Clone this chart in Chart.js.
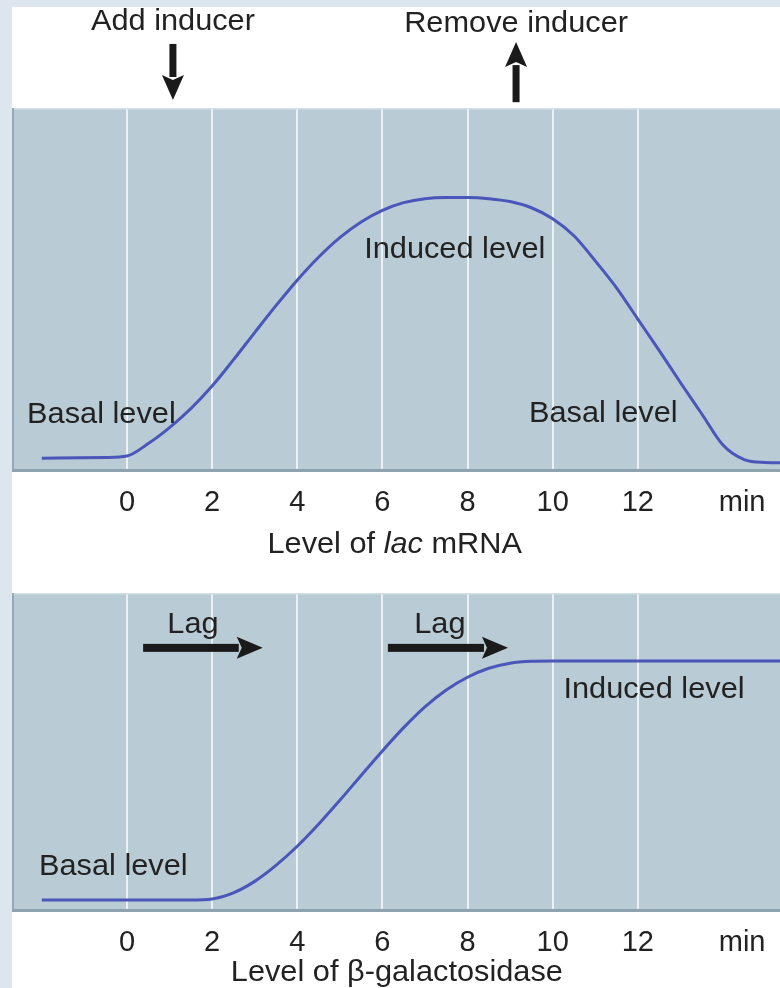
<!DOCTYPE html>
<html><head><meta charset="utf-8">
<script src="https://cdn.jsdelivr.net/npm/chart.js@4.4.1/dist/chart.umd.min.js"></script>
<style>
html,body{margin:0;padding:0;background:#fff;}
body{width:780px;height:988px;position:relative;overflow:hidden;}
#frameL{position:absolute;left:0;top:0;width:12px;height:988px;background:#dde5ee;}
#frameT{position:absolute;left:0;top:0;width:780px;height:7px;background:#dde5ee;}
canvas{position:absolute;left:0;}
#c1{top:0;}
#c2{top:560px;}
</style></head><body>
<div id="frameL"></div><div id="frameT"></div>
<canvas id="c1" width="780" height="560"></canvas>
<canvas id="c2" width="780" height="428"></canvas>
<script>
// ---- data (minutes vs. relative level, 0..100) ----
const mrnaMinutes = [-2, -0.5, 0, 0.5, 1, 1.5, 2, 2.5, 3, 3.5, 4, 4.5, 5, 5.5, 6, 6.5, 7, 7.5, 8, 8.5, 9, 9.5, 10, 10.5, 11, 11.5, 12, 12.5, 13, 13.5, 14, 14.5, 15, 15.4];
const mrnaLevel   = [3.8, 4.0, 4.4, 7.8, 12.2, 17.4, 23.6, 30.8, 38.3, 45.7, 52.7, 59.0, 64.4, 68.7, 71.9, 74.0, 75.1, 75.4, 75.4, 75.1, 74.3, 72.6, 69.6, 64.9, 58.0, 50.6, 42.0, 33.4, 24.6, 16.0, 7.4, 3.4, 2.6, 2.5];
const galMinutes  = [-2, 0, 1, 1.5, 2, 2.5, 3, 3.5, 4, 4.5, 5, 5.5, 6, 6.5, 7, 7.5, 8, 8.5, 9, 9.5, 10, 12, 15.4];
const galLevel    = [3.8, 3.8, 3.8, 3.8, 4.1, 6.0, 9.6, 14.6, 20.6, 27.5, 35.0, 42.8, 50.5, 57.8, 64.3, 69.6, 73.6, 76.4, 78.0, 78.6, 78.7, 78.7, 78.7];
const tickValues  = [0, 2, 4, 6, 8, 10, 12];
const unitTick    = 14.45;
const unitLabel   = 'min';
const addInducerAt = 1.08;
const removeInducerAt = 9.14;

const FONT = '"Liberation Sans", Arial, Helvetica, sans-serif';
const TXT = '#222222';
const PANEL = '#b9cbd5';
const GRID = '#e9f1f6';
const LINE = '#4b56ba';
const STRETCH = 1.06;

const panelPlugin = {
  id: 'panel',
  beforeDraw(chart) {
    const {ctx, chartArea: a} = chart;
    ctx.save();
    ctx.fillStyle = PANEL;
    ctx.fillRect(a.left, a.top, a.right - a.left, a.bottom - a.top);
    ctx.restore();
  },
  beforeDatasetsDraw(chart) {
    const {ctx, chartArea: a} = chart;
    ctx.save();
    ctx.fillStyle = '#d3e0e7';
    ctx.fillRect(a.left, a.top, a.right - a.left, 1.5);
    ctx.fillStyle = '#94a9b4';
    ctx.fillRect(a.left, a.top, 2, a.bottom - a.top);
    ctx.fillStyle = '#8ea3ae';
    ctx.fillRect(a.left, a.bottom - 3, a.right - a.left, 3);
    ctx.restore();
  }
};

function drawArrow(ctx, x1, y1, x2, y2, shaft, headLen, headW) {
  const ang = Math.atan2(y2 - y1, x2 - x1);
  const len = Math.hypot(x2 - x1, y2 - y1);
  ctx.save();
  ctx.translate(x1, y1);
  ctx.rotate(ang);
  ctx.fillStyle = '#1a1a1a';
  ctx.fillRect(0, -shaft / 2, len - headLen + 2, shaft);
  ctx.beginPath();
  ctx.moveTo(len, 0);
  ctx.lineTo(len - headLen, -headW / 2);
  ctx.lineTo(len - headLen + 5, 0);
  ctx.lineTo(len - headLen, headW / 2);
  ctx.closePath();
  ctx.fill();
  ctx.restore();
}

function annotPlugin(items) {
  return {
    id: 'annot',
    afterDatasetsDraw(chart) {
      const ctx = chart.ctx, xs = chart.scales.x, ys = chart.scales.y;
      ctx.save();
      ctx.fillStyle = TXT;
      ctx.textBaseline = 'alphabetic';
      items.forEach(it => {
        if (it.type === 'text' || it.type === 'rich') {
          const parts = it.parts || [{s: it.text}];
          let total = 0;
          parts.forEach(p => { ctx.font = (p.italic ? 'italic ' : '') + '29px ' + FONT; p.w = ctx.measureText(p.s).width; total += p.w; });
          const cx = xs.getPixelForValue(it.t), cy = ys.getPixelForValue(it.level);
          ctx.save();
          ctx.translate(cx, cy);
          ctx.scale(STRETCH, 1);
          let x = -total / 2;
          ctx.textAlign = 'left';
          ctx.fillStyle = TXT;
          parts.forEach(p => { ctx.font = (p.italic ? 'italic ' : '') + '29px ' + FONT; ctx.fillText(p.s, x, 0); x += p.w; });
          ctx.restore();
        } else if (it.type === 'arrow') {
          drawArrow(ctx, xs.getPixelForValue(it.t1), ys.getPixelForValue(it.l1),
                    xs.getPixelForValue(it.t2), ys.getPixelForValue(it.l2), it.shaft, it.head, it.headW);
        }
      });
      ctx.restore();
    }
  };
}

function makeOptions(axisHeight, padTop) {
  return {
    responsive: false,
    animation: false,
    events: [],
    layout: {padding: {left: 12, right: 0, top: padTop, bottom: 0}},
    plugins: {legend: {display: false}, tooltip: {enabled: false}},
    scales: {
      x: {
        type: 'linear', min: -2.70, max: 15.34,
        afterBuildTicks: s => { s.ticks = tickValues.concat([unitTick]).map(v => ({value: v})); },
        afterFit: s => { s.height = axisHeight; s.paddingLeft = 0; s.paddingRight = 0; },
        ticks: {
          autoSkip: false, maxRotation: 0, padding: 14, color: TXT,
          font: {family: FONT, size: 29},
          callback: v => (v === unitTick ? unitLabel : String(v))
        },
        grid: {
          drawTicks: false,
          color: c => (c.tick && c.tick.value === unitTick ? 'rgba(0,0,0,0)' : GRID),
          lineWidth: 2
        },
        border: {display: false}
      },
      y: {type: 'linear', min: 0, max: 100, display: false}
    }
  };
}

function lineDataset(xs, ys) {
  return {
    data: xs.map((x, i) => ({x: x, y: ys[i]})),
    borderColor: LINE, borderWidth: 3, pointRadius: 0,
    cubicInterpolationMode: 'monotone', fill: false
  };
}

new Chart(document.getElementById('c1'), {
  type: 'line',
  data: {datasets: [lineDataset(mrnaMinutes, mrnaLevel)]},
  options: makeOptions(88, 108),
  plugins: [panelPlugin, annotPlugin([
    {type: 'text', text: 'Add inducer', t: addInducerAt, level: 121.4},
    {type: 'arrow', t1: addInducerAt, l1: 117.6, t2: addInducerAt, l2: 102.2, shaft: 7, head: 25, headW: 22},
    {type: 'text', text: 'Remove inducer', t: removeInducerAt, level: 120.9},
    {type: 'arrow', t1: removeInducerAt, l1: 101.6, t2: removeInducerAt, l2: 118.1, shaft: 7, head: 25, headW: 22},
    {type: 'text', text: 'Induced level', t: 7.70, level: 58.8},
    {type: 'text', text: 'Basal level', t: -0.60, level: 13.5},
    {type: 'text', text: 'Basal level', t: 11.19, level: 13.7},
    {type: 'rich', t: 6.29, level: -22.3, parts: [{s: 'Level of '}, {s: 'lac', italic: true}, {s: ' mRNA'}]}
  ])]
});

new Chart(document.getElementById('c2'), {
  type: 'line',
  data: {datasets: [lineDataset(galMinutes, galLevel)]},
  options: makeOptions(76, 33),
  plugins: [panelPlugin, annotPlugin([
    {type: 'text', text: 'Lag', t: 1.55, level: 87.5},
    {type: 'arrow', t1: 0.38, l1: 82.8, t2: 3.19, l2: 82.8, shaft: 8, head: 26, headW: 22},
    {type: 'text', text: 'Lag', t: 7.35, level: 87.5},
    {type: 'arrow', t1: 6.13, l1: 82.8, t2: 8.95, l2: 82.8, shaft: 8, head: 26, headW: 22},
    {type: 'text', text: 'Induced level', t: 12.38, level: 67.1},
    {type: 'text', text: 'Basal level', t: -0.32, level: 11.6},
    {type: 'text', text: 'Level of \u03B2-galactosidase', t: 6.34, level: -21.6}
  ])]
});
</script>
</body></html>
